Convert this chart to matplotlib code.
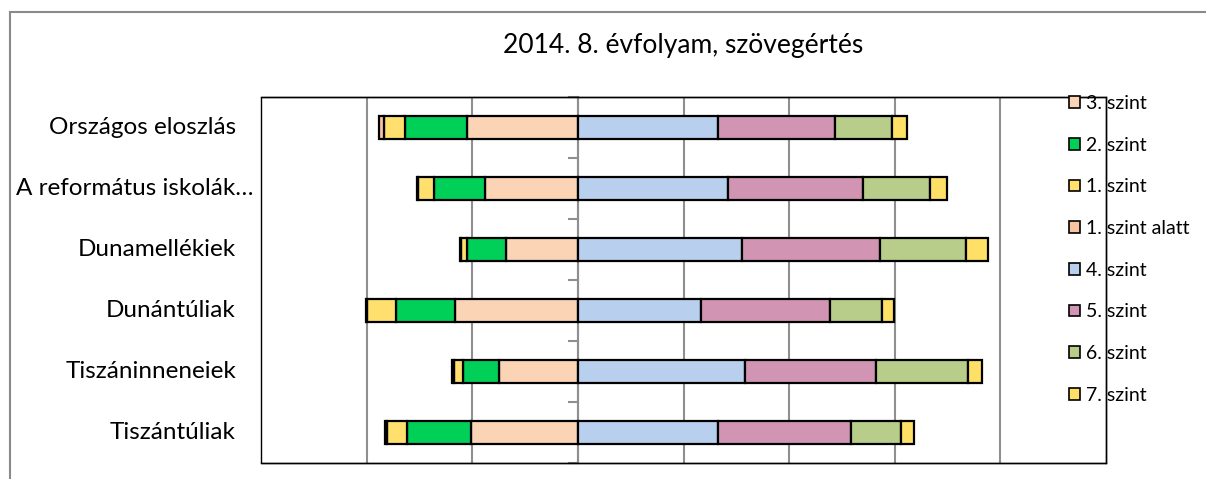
import numpy as np
import matplotlib.pyplot as plt
from matplotlib.patches import Rectangle

plt.rcParams['font.family'] = ['Lato', 'DejaVu Sans']

# DATA (percent of students per level)
categories = ['Országos eloszlás', 'A református iskolák…', 'Dunamellékiek',
              'Dunántúliak', 'Tiszáninneneiek', 'Tiszántúliak']
szint_alatt = [1.0, 0.3, 0.3, 0.2, 0.3, 0.4]
szint1 = [4.0, 3.0, 1.1, 5.4, 1.8, 3.8]
szint2 = [11.7, 9.6, 7.3, 11.2, 6.7, 12.0]
szint3 = [21.0, 17.6, 13.7, 23.3, 15.0, 20.3]
szint4 = [26.6, 28.5, 31.1, 23.4, 31.6, 26.6]
szint5 = [22.1, 25.5, 26.2, 24.4, 24.9, 25.2]
szint6 = [10.8, 12.7, 16.2, 9.8, 17.3, 9.3]
szint7 = [2.8, 3.1, 4.2, 2.3, 2.7, 2.5]

title = '2014. 8. évfolyam, szövegértés'

# colours
c_alatt = '#F8C39E'
c1 = '#FFE06E'
c2 = '#00CF58'
c3 = '#FBD4B5'
c4 = '#B9CFEE'
c5 = '#D194B3'
c6 = '#B8CD89'
c7 = '#FFE066'
grid_gray = '#8F8F8F'

fig = plt.figure(figsize=(12.06, 4.79), dpi=100)
ax = fig.add_axes([261 / 1206, 1 - 463 / 479, 845 / 1206, 366 / 479])

y = np.arange(len(categories))
h = 0.39
kw = dict(height=h, edgecolor='black', linewidth=1.6, zorder=3)

# left side: stacked outward from zero
left_series = [('3. szint', szint3, c3), ('2. szint', szint2, c2),
               ('1. szint', szint1, c1), ('1. szint alatt', szint_alatt, c_alatt)]
right_series = [('4. szint', szint4, c4), ('5. szint', szint5, c5),
                ('6. szint', szint6, c6), ('7. szint', szint7, c7)]

handles = {}
acc = np.zeros(len(categories))
for name, vals, col in left_series:
    vals = np.array(vals)
    handles[name] = ax.barh(y, -vals, left=-acc, color=col, **kw)
    acc += vals
acc = np.zeros(len(categories))
for name, vals, col in right_series:
    vals = np.array(vals)
    handles[name] = ax.barh(y, vals, left=acc, color=col, **kw)
    acc += vals

ax.set_xlim(-60, 100)
ax.set_ylim(len(categories) - 0.5, -0.5)
ax.set_xticks(np.arange(-40, 100, 20))
ax.set_xticklabels([])
ax.tick_params(axis='x', length=0)
ax.grid(axis='x', color=grid_gray, linewidth=1.5, zorder=0)

# vertical axis sits at zero with ticks between categories
ax.spines['left'].set_position(('data', 0))
ax.spines['left'].set_color(grid_gray)
ax.spines['left'].set_linewidth(1.5)
ax.set_yticks(np.arange(len(categories) + 1) - 0.5)
ax.set_yticklabels([])
ax.tick_params(axis='y', length=7, width=1.5, color=grid_gray, direction='out')
for s in ['top', 'bottom', 'right']:
    ax.spines[s].set_color('black')
    ax.spines[s].set_linewidth(1.0)
ax.add_patch(Rectangle((0, 0), 1, 1, transform=ax.transAxes, fill=False,
                       edgecolor='black', linewidth=1.0, clip_on=False, zorder=5))

# category labels to the left of the plot area
for i, cat in enumerate(categories):
    xr = -25 / 845 if i != 1 else -8 / 845
    ax.text(xr, i, cat, transform=ax.get_yaxis_transform(), ha='right',
            va='center', fontsize=17.5)

fig.text(683 / 1206, 1 - 45 / 479, title, ha='center', va='center', fontsize=19)

order = ['3. szint', '2. szint', '1. szint', '1. szint alatt',
         '4. szint', '5. szint', '6. szint', '7. szint']
leg = fig.legend([handles[k] for k in order], order, loc='upper left',
                 bbox_to_anchor=(1069 / 1206, 1 - 95 / 479), frameon=False,
                 fontsize=14, handlelength=0.55, handleheight=0.55,
                 handletextpad=0.3, labelspacing=1.27, borderaxespad=0, borderpad=0)
for p in leg.get_patches():
    p.set_linewidth(1.2)

# outer chart border
fig.add_artist(plt.Line2D([10 / 1206, 1], [1 - 12 / 479, 1 - 12 / 479],
                          color='#8A8A8A', linewidth=1.5))
fig.add_artist(plt.Line2D([10 / 1206, 10 / 1206], [0, 1 - 12 / 479],
                          color='#8A8A8A', linewidth=1.5))

fig.savefig('out.png', dpi=100)
